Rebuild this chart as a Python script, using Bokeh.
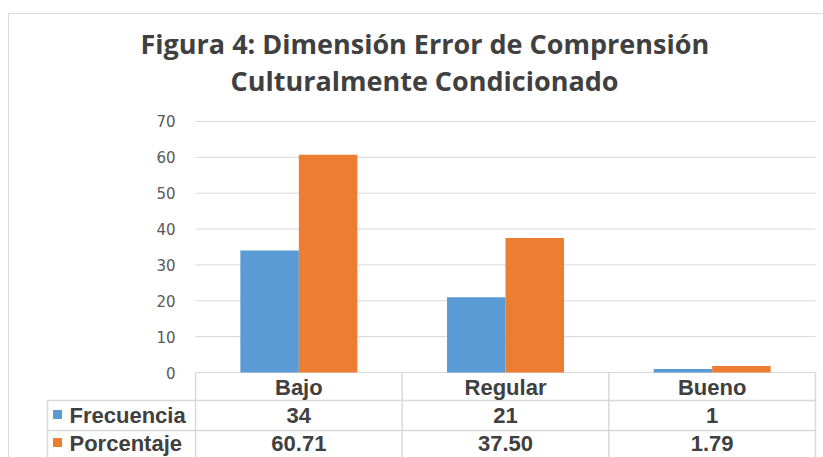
from bokeh.plotting import figure
from bokeh.models import Range1d, LinearAxis, FixedTicker, ColumnDataSource, Title
from bokeh.core.properties import value
from bokeh.embed import file_html
from bokeh.resources import INLINE

# ---- data ----
categories = ["Bajo", "Regular", "Bueno"]
frecuencia = [34, 21, 1]
porcentaje = [60.71, 37.50, 1.79]
frecuencia_labels = ["34", "21", "1"]
porcentaje_labels = ["60.71", "37.50", "1.79"]
series_names = ["Frecuencia", "Porcentaje"]
series_colors = ["#5B9BD5", "#ED7D31"]
y_ticks = [0, 10, 20, 30, 40, 50, 60, 70]
title_line1 = "Figura 4:  Dimensión Error de Comprensión"
title_line2 = "Culturalmente Condicionado"

# ---- layout constants (canvas pixels) ----
W, H = 823, 457
PX_X = 206.67          # pixels per category
PX_Y = 3.586           # pixels per y unit
X0 = 195               # canvas x of category axis start
Y0 = 372               # canvas y of value 0
FRAME_TOP = 100        # canvas y where frame starts (below title)

def dx(px):
    return (px - X0) / PX_X

def dy(px):
    return (Y0 - px) / PX_Y

p = figure(width=W, height=H, output_backend="svg", toolbar_location=None,
           x_range=Range1d(dx(0), dx(W)), y_range=Range1d(dy(H), dy(FRAME_TOP)),
           x_axis_location=None, y_axis_location=None,
           min_border_left=0, min_border_right=0, min_border_bottom=0,
           min_border_top=FRAME_TOP)
p.outline_line_color = None
p.xgrid.visible = False
p.ygrid.visible = False
p.border_fill_color = None
p.background_fill_color = None
p.styles = {
    "background": "linear-gradient(#d9d9d9, #d9d9d9) 8px 13px / 1px 100% no-repeat, "
                  "linear-gradient(#d9d9d9, #d9d9d9) 8px 13px / 100% 1px no-repeat, white"
}

def style_title(t, left_offset):
    t.align = "left"
    t.offset = left_offset
    t.text_font = "Open Sans"
    t.text_font_size = "27px"
    t.text_font_style = "bold"
    t.text_color = "#404040"

p.title.text = title_line1
style_title(p.title, 140)
p.title.standoff = -7
t2 = Title(text=title_line2)
style_title(t2, 230)
t2.standoff = 3
p.add_layout(t2, "above")

# gridlines
n = len(categories)
p.segment(x0=[0] * len(y_ticks), x1=[n] * len(y_ticks), y0=y_ticks, y1=y_ticks,
          line_color="#d9d9d9", line_width=1)

# y axis fixed at category start
yax = LinearAxis(fixed_location=0, ticker=FixedTicker(ticks=y_ticks))
yax.axis_line_color = None
yax.major_tick_line_color = None
yax.minor_tick_line_color = None
yax.major_tick_out = 0
yax.major_label_standoff = 20
yax.major_label_text_font = "DejaVu Sans"
yax.major_label_text_font_size = "15px"
yax.major_label_text_color = "#595959"
p.add_layout(yax, "left")

# bars
bw = 0.283
centers = [i + 0.5 for i in range(n)]
src = ColumnDataSource(dict(x=centers, cat=categories, f=frecuencia, pc=porcentaje,
                            fl=frecuencia_labels, pl=porcentaje_labels))
p.vbar(x=[c - bw / 2 for c in centers], top=frecuencia, bottom=0, width=bw,
       fill_color=series_colors[0], line_color=None)
p.vbar(x=[c + bw / 2 for c in centers], top=porcentaje, bottom=0, width=bw,
       fill_color=series_colors[1], line_color=None)

# data table
tcol = "#d9d9d9"
row_tops = [Y0, 400, 430]
row_centers = [387, 415, 443]
bottom = dy(H + 20)
left = dx(47)
p.segment(x0=list(range(n + 1)), x1=list(range(n + 1)),
          y0=[0] * (n + 1), y1=[bottom] * (n + 1), line_color=tcol, line_width=1.5)
p.segment(x0=[left], x1=[left], y0=[dy(row_tops[1])], y1=[bottom], line_color=tcol, line_width=1.5)
p.segment(x0=[left, left], x1=[n, n], y0=[dy(row_tops[1]), dy(row_tops[2])],
          y1=[dy(row_tops[1]), dy(row_tops[2])], line_color=tcol, line_width=1.5)

font = value("Liberation Sans")
for col, rc in (("cat", row_centers[0]), ("fl", row_centers[1]), ("pl", row_centers[2])):
    p.text(x="x", y=dy(rc), text=col, source=src, text_font=font,
           text_font_size="22px", text_font_style="bold", text_color="#404040",
           text_align="center", text_baseline="middle")

# legend keys + series names
p.scatter(x=[dx(57)] * 2, y=[dy(row_centers[1] - 1), dy(row_centers[2] - 1)], marker="square",
          size=9, fill_color=series_colors, line_color=None)
p.text(x=[dx(69)] * 2, y=[dy(row_centers[1]), dy(row_centers[2])], text=series_names,
       text_font=font, text_font_size="22px", text_font_style="bold", text_color="#404040",
       text_align="left", text_baseline="middle")

open("out.html", "w").write(file_html(p, INLINE))
